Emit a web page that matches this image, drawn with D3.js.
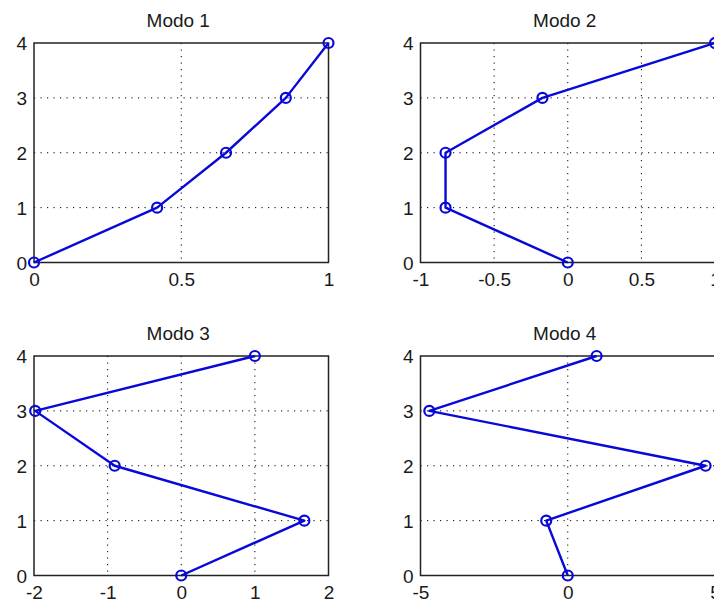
<!DOCTYPE html>
<html>
<head>
<meta charset="utf-8">
<script src="https://cdn.jsdelivr.net/npm/d3@7"></script>
<style>
  html, body { margin: 0; padding: 0; background: #fff; overflow: hidden; }
  svg { display: block; }
  text { font-family: "Liberation Sans", Arial, sans-serif; fill: #1a1a1a; }
</style>
</head>
<body>
<svg id="chart" width="714" height="604"></svg>
<script>
// Floor levels (vertical axis) shared by every mode shape
const floors = [0, 1, 2, 3, 4];

// Modal displacement of each floor
const modo1 = [0, 0.418, 0.652, 0.855, 1.0];
const modo2 = [0, -0.83, -0.83, -0.172, 1.0];
const modo3 = [0, 1.672, -0.904, -1.984, 1.0];
const modo4 = [0, -0.73, 4.68, -4.70, 0.98];

// Axis limits and tick values of each panel
const titles = ["Modo 1", "Modo 2", "Modo 3", "Modo 4"];
const xDomains = [[0, 1], [-1, 1], [-2, 2], [-5, 5]];
const xTicks = [[0, 0.5, 1], [-1, -0.5, 0, 0.5, 1], [-2, -1, 0, 1, 2], [-5, 0, 5]];
const yTicks = [0, 1, 2, 3, 4];

const modes = [modo1, modo2, modo3, modo4];

const svg = d3.select("#chart");
const colX = [34, 420.5];
const rowY = [43, 356];
const W = 294.5, H = 219.5;
const blue = "#0808d8";
const FS = 19;

modes.forEach((vals, i) => {
  const ox = colX[i % 2], oy = rowY[Math.floor(i / 2)];
  const g = svg.append("g").attr("transform", `translate(${ox},${oy})`);

  const x = d3.scaleLinear().domain(xDomains[i]).range([0, W]);
  const y = d3.scaleLinear().domain([0, 4]).range([H, 0]);

  // dotted grid at interior ticks
  const xt = xTicks[i];
  const xd = xDomains[i];
  g.selectAll(".gx").data(xt.filter(v => v > xd[0] && v < xd[1]))
    .join("line")
    .attr("x1", d => x(d)).attr("x2", d => x(d))
    .attr("y1", 0).attr("y2", H)
    .attr("stroke", "#000").attr("stroke-width", 1)
    .attr("stroke-dasharray", "1.2,5.3");
  g.selectAll(".gy").data(yTicks.filter(v => v > 0 && v < 4))
    .join("line")
    .attr("x1", 0).attr("x2", W)
    .attr("y1", d => y(d)).attr("y2", d => y(d))
    .attr("stroke", "#000").attr("stroke-width", 1)
    .attr("stroke-dasharray", "1.2,5.3");

  // axes: labels only, frame drawn separately
  const fmt = v => String(v);
  const ax = g.append("g").attr("transform", `translate(0,${H})`)
    .call(d3.axisBottom(x).tickValues(xt).tickFormat(fmt).tickSize(0).tickPadding(10));
  const ay = g.append("g")
    .call(d3.axisLeft(y).tickValues(yTicks).tickFormat(fmt).tickSize(0).tickPadding(7));
  [ax, ay].forEach(a => {
    a.select(".domain").remove();
    a.selectAll("text").attr("font-size", FS)
      .attr("font-family", "\"Liberation Sans\", Arial, sans-serif").attr("fill", "#1a1a1a");
  });
  ay.selectAll("text").attr("dy", "0.36em");
  ax.selectAll("text").attr("dy", "0.72em");

  // frame
  g.append("rect").attr("x", 0).attr("y", 0).attr("width", W).attr("height", H)
    .attr("fill", "none").attr("stroke", "#222").attr("stroke-width", 1.5);

  // mode shape
  const pts = floors.map((f, k) => [vals[k], f]);
  g.append("path").datum(pts)
    .attr("d", d3.line().x(d => x(d[0])).y(d => y(d[1])))
    .attr("fill", "none").attr("stroke", blue).attr("stroke-width", 2.4)
    .attr("stroke-linejoin", "round");
  g.selectAll(".pt").data(pts).join("circle")
    .attr("cx", d => x(d[0])).attr("cy", d => y(d[1])).attr("r", 5)
    .attr("fill", "none").attr("stroke", blue).attr("stroke-width", 2.2);

  // title
  g.append("text").attr("x", W / 2 - 3).attr("y", -16)
    .attr("text-anchor", "middle").attr("font-size", FS).text(titles[i]);
});
</script>
</body>
</html>
